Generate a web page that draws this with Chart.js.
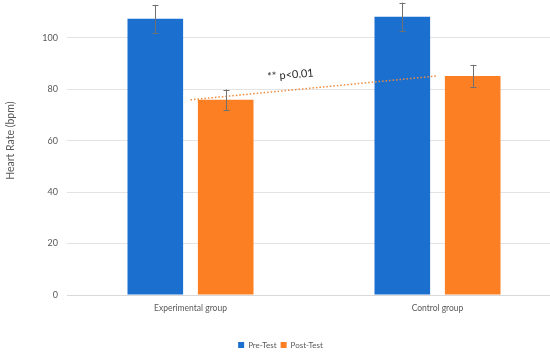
<!DOCTYPE html>
<html><head><meta charset="utf-8">
<script src="https://cdn.jsdelivr.net/npm/chart.js@4.4.1/dist/chart.umd.min.js"></script>
<style>
html,body{margin:0;padding:0;background:#fff;overflow:hidden;width:550px;height:352px}
#wrap{width:550px;height:352px;position:relative;overflow:hidden}
#c{position:absolute;left:0;top:-28px}
</style></head><body>
<div id="wrap"><canvas id="c" width="562" height="387"></canvas></div>
<script>
const categories = ["Experimental group", "Control group"];
const preTest = [107.4, 108.2];
const postTest = [75.9, 85.2];
const preErr = [5.4, 5.5];
const postErr = [4.0, 4.3];
const trendLine = [75.9, 85.2];
const yTicks = [0, 20, 40, 60, 80, 100];
const annotationText = "** p<0.01";

const FONT = "Lato, 'Open Sans', sans-serif";
const TXT = "#595959";

const errorBars = {
  id: 'errorBars',
  afterDatasetsDraw(chart) {
    const ctx = chart.ctx, y = chart.scales.y;
    const errs = [preErr, postErr];
    ctx.save();
    ctx.strokeStyle = '#707070';
    ctx.lineWidth = 1;
    [0, 1].forEach(di => {
      const meta = chart.getDatasetMeta(di);
      const vals = chart.data.datasets[di].data;
      meta.data.forEach((bar, i) => {
        const x = Math.round(bar.x) + 0.5;
        const yt = y.getPixelForValue(vals[i] + errs[di][i]);
        const yb = y.getPixelForValue(vals[i] - errs[di][i]);
        ctx.beginPath();
        ctx.moveTo(x, yt); ctx.lineTo(x, yb);
        ctx.moveTo(x - 3, Math.round(yt) + 0.5); ctx.lineTo(x + 3, Math.round(yt) + 0.5);
        ctx.moveTo(x - 3, Math.round(yb) + 0.5); ctx.lineTo(x + 3, Math.round(yb) + 0.5);
        ctx.stroke();
      });
    });
    ctx.restore();
  }
};

const annot = {
  id: 'annot',
  afterDraw(chart) {
    const ctx = chart.ctx, xs = chart.scales.x, ys = chart.scales.y;
    const x0 = xs.getPixelForValue(0), x1 = xs.getPixelForValue(1);
    const px = x0 + (x1 - x0) * 0.405;
    const py = ys.getPixelForValue(85.6);
    ctx.save();
    ctx.translate(px, py);
    ctx.rotate(-5 * Math.PI / 180);
    ctx.font = "11px " + FONT;
    ctx.fillStyle = '#262626';
    ctx.textAlign = 'center';
    ctx.textBaseline = 'middle';
    ctx.fillText(annotationText, 0, 0);
    ctx.restore();
  }
};

new Chart(document.getElementById('c'), {
  data: {
    labels: categories,
    datasets: [
      { type: 'bar', label: 'Pre-Test', data: preTest, backgroundColor: '#1a6fcf', order: 2,
        categoryPercentage: 0.57, barPercentage: 0.79 },
      { type: 'bar', label: 'Post-Test', data: postTest, backgroundColor: '#fd7f23', order: 2,
        categoryPercentage: 0.57, barPercentage: 0.79 },
      { type: 'line', label: 'trend', data: trendLine, borderColor: '#f08a3c', borderWidth: 1.5,
        borderDash: [1.5, 2], pointRadius: 0, fill: false, order: 0 }
    ]
  },
  options: {
    responsive: false,
    animation: false,
    layout: { padding: { top: 0, right: 1, left: 0, bottom: 0 } },
    plugins: {
      legend: {
        position: 'bottom',
        labels: {
          filter: (item) => item.text !== 'trend',
          boxWidth: 6, boxHeight: 6, padding: 4,
          color: TXT, font: { family: FONT, size: 8 }
        }
      },
      tooltip: { enabled: false }
    },
    scales: {
      x: {
        grid: { display: false, drawTicks: false },
        border: { color: '#d9d9d9' },
        ticks: { color: TXT, font: { family: FONT, size: 8.5 }, padding: 8 },
        afterFit: (s) => { s.height = 42; }
      },
      y: {
        min: 0, max: 120,
        afterBuildTicks: (s) => { s.ticks = yTicks.map(v => ({ value: v })); },
        grid: { color: '#e3e3e3', drawTicks: false },
        border: { display: false },
        ticks: { color: TXT, font: { family: FONT, size: 9 }, padding: 9 },
        title: { display: true, text: 'Heart Rate (bpm)', color: TXT, font: { family: FONT, size: 10.5 }, padding: { top: 4, bottom: 0 } },
        afterFit: (s) => { s.width = 67; }
      }
    }
  },
  plugins: [errorBars, annot]
});
</script>
</body></html>
